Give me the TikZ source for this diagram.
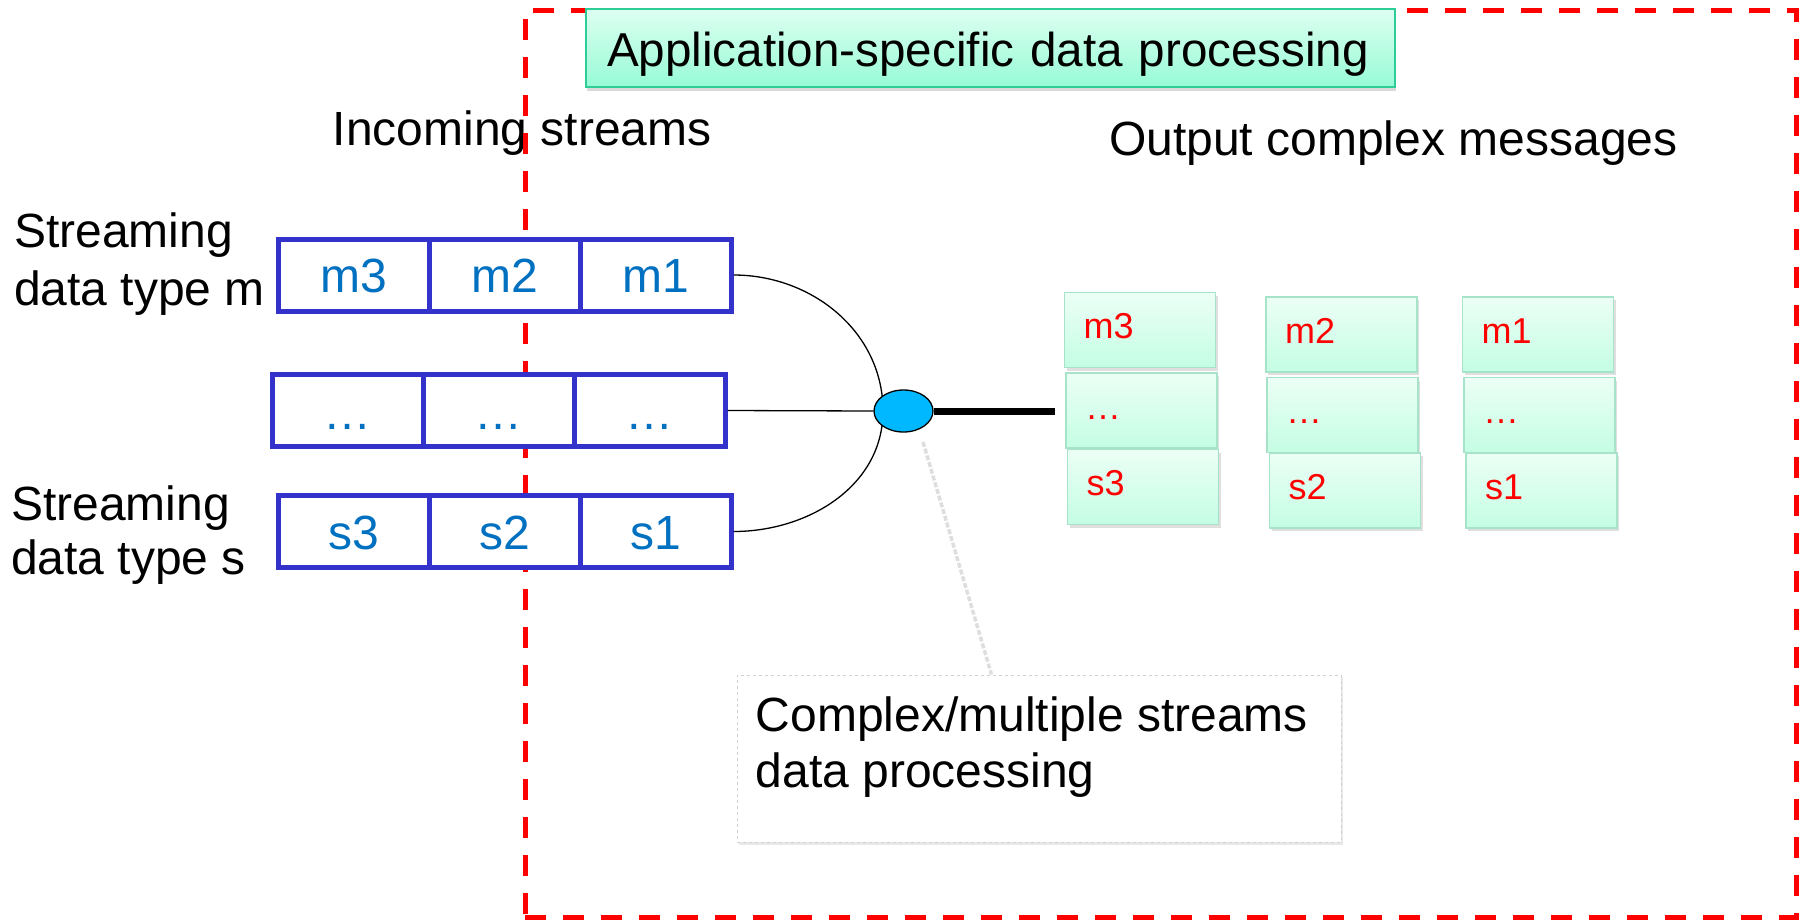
\documentclass[tikz,border=0pt]{standalone}
\usepackage{fontspec}
\setmainfont{Liberation Sans}
\usetikzlibrary{shapes.geometric,shadows,calc}

\definecolor{cellblue}{RGB}{51,51,204}
\definecolor{celltext}{RGB}{0,112,192}
\definecolor{hubblue}{RGB}{0,184,255}
\definecolor{framered}{RGB}{255,0,0}
\definecolor{titletop}{RGB}{222,255,241}
\definecolor{titlebot}{RGB}{150,251,214}
\definecolor{titleedge}{RGB}{46,204,150}
\definecolor{msgtop}{RGB}{236,255,246}
\definecolor{msgbot}{RGB}{196,253,227}
\definecolor{msgedge}{RGB}{166,227,200}

\newcommand\txtL{\fontsize{48}{58}\selectfont}
\newcommand\txtM{\fontsize{36}{42}\selectfont}

\begin{document}
\begin{tikzpicture}[x=1pt,y=-1pt,
  plain/.style={inner sep=0pt,font=\txtL,text=black},
  cell/.style={draw=cellblue,line width=5pt,fill=white,minimum width=151pt,
    minimum height=72pt,inner sep=0pt,text=celltext,font=\txtL,
    text height=35pt,text depth=0pt},
  dotcell/.style={cell,text height=38pt},
  msg/.style={draw=msgedge,line width=1.5pt,top color=msgtop,bottom color=msgbot,
    minimum height=75pt,text width=113pt,inner xsep=19pt,inner ysep=0pt,
    align=left,text=red,font=\txtM,text height=25pt,text depth=8pt,
    drop shadow={shadow xshift=2pt,shadow yshift=-3pt,opacity=0.25}},
  titlebox/.style={draw=titleedge,line width=2pt,top color=titletop,bottom color=titlebot,
    minimum height=78pt,text width=788pt,inner xsep=10.5pt,inner ysep=0pt,align=left,
    font=\fontsize{47.6}{56}\selectfont,text height=36pt,text depth=0pt,
    drop shadow={shadow xshift=1pt,shadow yshift=-4pt,opacity=0.3}},
  calloutbox/.style={draw=black!18,dashed,line width=1pt,fill=white,
    minimum width=604pt,minimum height=167pt,inner sep=0pt,
    drop shadow={shadow xshift=2pt,shadow yshift=-3pt,opacity=0.18}},
  appframe/.style={draw=framered,line width=5pt,dash pattern=on 21pt off 17pt,
    minimum width=1271pt,minimum height=907pt,inner sep=0pt},
  wire/.style={line width=1.3pt,black},
  pointer/.style={draw=black!13,line width=3.5pt,dash pattern=on 5pt off 2pt}
]
\useasboundingbox (0,0) rectangle (1806,919);

% headings
\node[plain,anchor=base west] (incoming) at (332.5,145) {Incoming streams};
\node[plain,anchor=base west] (output) at (1109,155) {Output complex messages};
\node[plain,anchor=north west,align=left] (typem) at (14,213)
  {Streaming\\data type m};
\node[plain,anchor=north west,align=left,font=\fontsize{48}{54}\selectfont] (types) at (11,485.5)
  {Streaming\\data type s};

% application boundary
\node[appframe] (app) at (1160.5,463.5) {};

% title banner
\node[titlebox] (title) at (990.5,48)
  {\hspace*{10.5pt}\mbox{Application-specific data processing}};

% junction of the incoming streams
\coordinate (jn) at (883,411);

% incoming stream queues
\node[cell] (m3) at (353.5,275) {m3};
\node[cell] (m2) at (504.5,275) {m2};
\node[cell] (m1) at (655.5,275) {m1};
\node[dotcell] (d3) at (347.5,410.5) {\dots};
\node[dotcell] (d2) at (498.5,410.5) {\dots};
\node[dotcell] (d1) at (649.5,410.5) {\dots};
\node[cell] (s3) at (353.5,531.5) {s3};
\node[cell] (s2) at (504.5,531.5) {s2};
\node[cell] (s1) at (655.5,531.5) {s1};

% links into the processing hub
\draw[wire] (m1.east) to[out=0,in=90] (jn);
\draw[wire] (s1.east) to[out=0,in=-90] (jn);
\node[draw=black,line width=1.3pt,fill=hubblue,ellipse,minimum width=59pt,
  minimum height=42pt,inner sep=0pt] (hub) at (903.5,411) {};
\draw[wire] (d1.east) -- (hub.west);

\coordinate (tail) at (1055,411);
\draw[line width=7pt] (hub.east) -- (tail);

% output complex messages
\node[msg] (om3) at (1140,330) {m3};
\node[msg] (od3) at (1141.5,410.5) {\dots};
\node[msg] (os3) at (1143,487) {s3};
\node[msg] (om2) at (1341.5,334.5) {m2};
\node[msg] (od2) at (1342.5,415) {\dots};
\node[msg] (os2) at (1345,490.5) {s2};
\node[msg] (om1) at (1538,334.5) {m1};
\node[msg] (od1) at (1539.5,415) {\dots};
\node[msg] (os1) at (1541.5,490.5) {s1};

% callout
\node[calloutbox] (cb) at (1039,758.5) {};
\node[plain,anchor=north west,align=left,font=\fontsize{48}{56}\selectfont] (cbtext)
  at ([xshift=19pt,yshift=-22.5pt]cb.north west)
  {Complex/multiple streams\\data processing};
\coordinate (pa) at (923,442);
\coordinate (pb) at ([xshift=255pt]cb.north west);
\draw[pointer] (pa) -- (pb);
\end{tikzpicture}
\end{document}
